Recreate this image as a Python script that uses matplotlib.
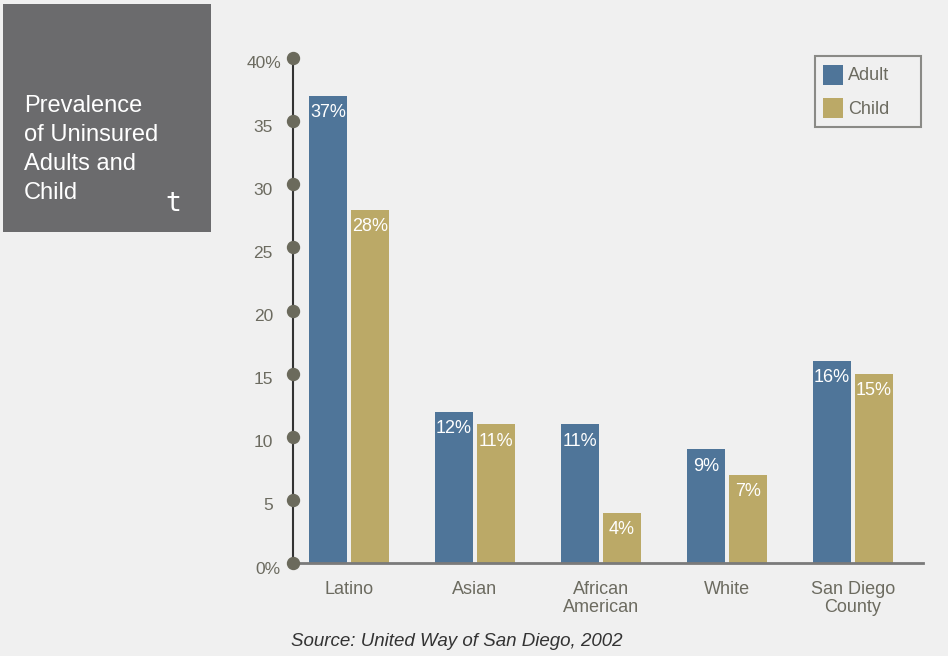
import matplotlib
matplotlib.use("Agg")
import matplotlib.pyplot as plt
from matplotlib.patches import Rectangle
from matplotlib.transforms import ScaledTranslation
import numpy as np

# ---- data ----
categories = ["Latino", "Asian", "African\nAmerican", "White", "San Diego\nCounty"]
series_names = ["Adult", "Child"]
adult = [37, 12, 11, 9, 16]
child = [28, 11, 4, 7, 15]
y_ticks = [0, 5, 10, 15, 20, 25, 30, 35, 40]
y_tick_labels = ["0%", "5", "10", "15", "20", "25", "30", "35", "40%"]
title_lines = ["Prevalence", "of Uninsured", "Adults and", "Child"]
source_text = "Source: United Way of San Diego, 2002"

# ---- style ----
BG = "#f0f0f0"
BLUE = "#4f7599"
GOLD = "#bba967"
TEXT_GRAY = "#6c6b60"
DOT = "#6b6a5c"
BOX = "#6b6b6d"
plt.rcParams["font.family"] = ["Liberation Sans", "DejaVu Sans"]

W, H = 948, 656
fig = plt.figure(figsize=(W / 100, H / 100), dpi=100, facecolor=BG)

def fx(px):
    return px / W

def fy(py):
    return 1 - py / H

ax = fig.add_axes([fx(293), fy(563), fx(923) - fx(293), fy(58) - fy(563)])
ax.set_facecolor(BG)

x = np.arange(len(categories))
bar_w = 0.3016
off = 0.1667
b1 = ax.bar(x - off, adult, width=bar_w, color=BLUE, zorder=2)
b2 = ax.bar(x + off, child, width=bar_w, color=GOLD, zorder=2)

ax.set_xlim(-0.444, len(categories) - 1 + 0.556)
ax.set_ylim(0, 40)

# value labels inside bar tops
down = ScaledTranslation(0, -17 / 100, fig.dpi_scale_trans)
for bars, vals in ((b1, adult), (b2, child)):
    for rect, v in zip(bars, vals):
        ax.text(rect.get_x() + rect.get_width() / 2, v, f"{v}%",
                ha="center", va="center", color="white", fontsize=13,
                transform=ax.transData + down, zorder=3)

# spines
for s in ("top", "right"):
    ax.spines[s].set_visible(False)
ax.spines["left"].set_color("#333333")
ax.spines["left"].set_linewidth(1.5)
ax.spines["bottom"].set_color("#7a7a7a")
ax.spines["bottom"].set_linewidth(2)

# y ticks: dots on the axis, labels drawn as text
ax.set_yticks(y_ticks)
ax.set_yticklabels([])
ax.tick_params(axis="y", length=0)
ytrans = ax.get_yaxis_transform()
ax.plot(np.zeros(len(y_ticks)), y_ticks, "o", color=DOT, markersize=8.6,
        transform=ytrans, clip_on=False, zorder=4, linestyle="none")
for val, lab in zip(y_ticks, y_tick_labels):
    dx = -12 if lab.endswith("%") else -20
    shift = ScaledTranslation(dx / 100, -6 / 100, fig.dpi_scale_trans)
    ax.text(0, val, lab, ha="right", va="center", fontsize=12.5, color=TEXT_GRAY,
            transform=ytrans + shift)

# x tick labels
ax.set_xticks(x)
ax.set_xticklabels(categories, fontsize=13, color=TEXT_GRAY, linespacing=1.05)
ax.tick_params(axis="x", length=0, pad=13)

# legend drawn in figure pixels
fig.patches.append(Rectangle((fx(815), fy(127)), fx(921) - fx(815), fy(56) - fy(127),
                             transform=fig.transFigure, facecolor=BG,
                             edgecolor="#8a8a86", linewidth=1.5, zorder=5))
for i, (name, col) in enumerate(zip(series_names, (BLUE, GOLD))):
    cy = 75 + 33 * i
    fig.patches.append(Rectangle((fx(823), fy(cy + 10)), fx(20), 20 / H,
                                 transform=fig.transFigure, facecolor=col,
                                 edgecolor="none", zorder=6))
    fig.text(fx(848), fy(cy + 1), name, ha="left", va="center", fontsize=13,
             color=TEXT_GRAY, zorder=7)

# title box
fig.patches.append(Rectangle((fx(3), fy(232)), fx(208), 228 / H,
                             transform=fig.transFigure, facecolor=BOX,
                             edgecolor="none", zorder=0))
for i, line in enumerate(title_lines):
    fig.text(fx(24), fy(112 + 29 * i), line, ha="left", va="baseline",
             fontsize=17, color="white")
fig.text(fx(173), fy(204), "t", ha="center", va="center", fontsize=19,
         color="white", family="DejaVu Sans Mono")

# source
fig.text(fx(457), fy(642), source_text, ha="center", va="center",
         fontsize=13.5, style="italic", color="#333333")

fig.savefig("out.png", dpi=100, facecolor=BG)
